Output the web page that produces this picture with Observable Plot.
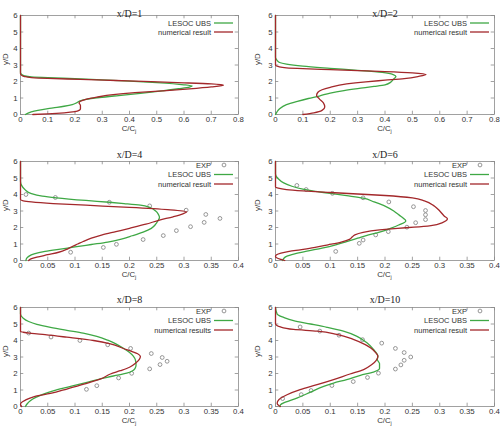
<!DOCTYPE html>
<html><head><meta charset="utf-8">
<script src="https://cdn.jsdelivr.net/npm/d3@7"></script>
<script src="https://cdn.jsdelivr.net/npm/@observablehq/plot@0.6"></script>
<style>
body{margin:0;width:500px;height:428px;overflow:hidden;background:#fff;position:relative}
svg.pp{position:absolute}
</style></head><body>
<script>
// ---- data ----
const titles = ["x/D=1","x/D=2","x/D=4","x/D=6","x/D=8","x/D=10"];
const yTicks = [0,1,2,3,4,5,6];
const xTicksWide = [0,0.1,0.2,0.3,0.4,0.5,0.6,0.7,0.8];
const xTicksNarrow = [0,0.05,0.1,0.15,0.2,0.25,0.3,0.35,0.4];
const legend2 = ["LESOC UBS","numerical result"];
const legend3 = ["EXP","LESOC UBS","numerical result"];
const legend3b = ["EXP","LESOC UBS","numerical results"];

// [C/Cj, y/D]
const les1 = [[0.018,0],[0.03,0.1],[0.05,0.2],[0.08,0.3],[0.12,0.4],[0.16,0.5],[0.19,0.6],[0.205,0.7],[0.215,0.8],[0.24,0.92],[0.29,1.03],[0.36,1.15],[0.44,1.28],[0.52,1.43],[0.58,1.56],[0.62,1.66],[0.63,1.72],[0.6,1.8],[0.5,1.93],[0.4,2.02],[0.3,2.1],[0.2,2.17],[0.1,2.23],[0.04,2.28],[0.015,2.34],[0.005,2.42],[0,2.55],[0,6]];
const num1 = [[0.045,0],[0.1,0.04],[0.16,0.1],[0.2,0.17],[0.215,0.25],[0.22,0.35],[0.22,0.55],[0.215,0.7],[0.22,0.8],[0.24,0.92],[0.28,1.05],[0.34,1.2],[0.42,1.32],[0.52,1.43],[0.62,1.55],[0.7,1.67],[0.745,1.78],[0.7,1.85],[0.6,1.92],[0.48,1.99],[0.35,2.06],[0.22,2.13],[0.1,2.19],[0.04,2.24],[0.015,2.3],[0.004,2.38],[0,2.45],[0,6]];

const les2 = [[0,0],[0.005,0.15],[0.015,0.35],[0.04,0.6],[0.08,0.8],[0.12,0.97],[0.16,1.12],[0.2,1.3],[0.25,1.45],[0.3,1.57],[0.36,1.7],[0.4,1.8],[0.42,1.95],[0.43,2.12],[0.44,2.3],[0.43,2.42],[0.39,2.55],[0.3,2.68],[0.2,2.8],[0.1,2.93],[0.04,3.05],[0.015,3.15],[0.005,3.3],[0,3.45],[0,6]];
const num2 = [[0.1,0],[0.14,0.1],[0.17,0.25],[0.18,0.45],[0.175,0.7],[0.16,0.95],[0.15,1.15],[0.155,1.35],[0.17,1.5],[0.2,1.65],[0.26,1.85],[0.33,1.98],[0.4,2.08],[0.47,2.18],[0.52,2.3],[0.55,2.42],[0.5,2.52],[0.4,2.6],[0.3,2.66],[0.2,2.72],[0.1,2.78],[0.04,2.83],[0.012,2.9],[0,3.0],[0,6]];

const exp4X = [0.01,0.064,0.163,0.237,0.304,0.34,0.366,0.337,0.312,0.286,0.262,0.225,0.176,0.152,0.092];
const exp4Y = [4.0,3.82,3.53,3.31,3.05,2.79,2.55,2.31,2.05,1.81,1.51,1.27,0.98,0.79,0.5];
const les4 = [[0.01,0],[0.011,0.12],[0.015,0.25],[0.025,0.4],[0.045,0.55],[0.07,0.68],[0.1,0.82],[0.13,0.97],[0.16,1.12],[0.185,1.3],[0.205,1.5],[0.225,1.72],[0.24,1.95],[0.248,2.2],[0.252,2.4],[0.255,2.6],[0.253,2.8],[0.248,3.0],[0.238,3.2],[0.22,3.35],[0.19,3.45],[0.163,3.53],[0.12,3.64],[0.066,3.8],[0.04,3.9],[0.02,4.05],[0.008,4.3],[0.002,4.55],[0,4.8],[0,6]];
const num4 = [[0.015,0],[0.018,0.08],[0.03,0.2],[0.05,0.35],[0.07,0.5],[0.085,0.68],[0.095,0.85],[0.105,1.0],[0.115,1.15],[0.13,1.35],[0.15,1.55],[0.175,1.75],[0.2,1.95],[0.23,2.2],[0.255,2.45],[0.28,2.65],[0.298,2.83],[0.305,2.95],[0.27,3.08],[0.2,3.22],[0.12,3.35],[0.06,3.45],[0.02,3.55],[0.005,3.62],[0,3.7],[0,6]];

const exp6X = [0.039,0.056,0.104,0.16,0.207,0.252,0.274,0.274,0.274,0.256,0.24,0.206,0.183,0.16,0.153,0.11];
const exp6Y = [4.55,4.3,4.07,3.8,3.55,3.26,3.03,2.77,2.48,2.29,2.02,1.75,1.55,1.24,1.04,0.55];
const les6 = [[0.013,0],[0.015,0.12],[0.02,0.25],[0.035,0.4],[0.06,0.58],[0.085,0.75],[0.11,0.95],[0.13,1.15],[0.15,1.35],[0.17,1.55],[0.19,1.72],[0.21,1.95],[0.225,2.15],[0.238,2.4],[0.234,2.55],[0.226,2.75],[0.216,3.0],[0.2,3.3],[0.18,3.55],[0.16,3.78],[0.13,3.93],[0.1,4.07],[0.07,4.2],[0.05,4.32],[0.03,4.5],[0.015,4.7],[0.005,4.95],[0,5.25],[0,6]];
const num6 = [[0.017,0],[0.01,0.07],[0.003,0.15],[0,0.25],[0.002,0.35],[0.01,0.45],[0.025,0.55],[0.045,0.65],[0.07,0.78],[0.096,0.95],[0.12,1.12],[0.135,1.28],[0.14,1.42],[0.145,1.55],[0.16,1.7],[0.19,1.85],[0.223,1.95],[0.253,2.02],[0.284,2.12],[0.305,2.3],[0.314,2.53],[0.308,2.7],[0.3,3.0],[0.29,3.3],[0.272,3.62],[0.25,3.8],[0.2,3.94],[0.15,4.03],[0.1,4.12],[0.05,4.22],[0.02,4.3],[0.005,4.38],[0,4.45],[0,6]];

const exp8X = [0.015,0.056,0.109,0.16,0.202,0.24,0.26,0.269,0.256,0.237,0.204,0.18,0.14,0.121];
const exp8Y = [4.45,4.21,4.0,3.74,3.52,3.21,2.97,2.74,2.54,2.28,2.01,1.73,1.26,1.04];
const les8 = [[0.009,0],[0.012,0.15],[0.018,0.35],[0.028,0.55],[0.042,0.75],[0.06,0.95],[0.085,1.16],[0.105,1.32],[0.122,1.46],[0.14,1.62],[0.159,1.77],[0.178,1.9],[0.195,2.02],[0.205,2.15],[0.21,2.3],[0.212,2.5],[0.211,2.8],[0.207,3.05],[0.199,3.3],[0.188,3.55],[0.175,3.8],[0.16,4.02],[0.14,4.25],[0.115,4.45],[0.085,4.62],[0.055,4.8],[0.03,4.98],[0.015,5.15],[0.005,5.35],[0,5.6],[0,6]];
const num8 = [[0.002,0],[0,0.12],[0.002,0.25],[0.009,0.39],[0.024,0.59],[0.055,0.79],[0.085,1.06],[0.116,1.36],[0.147,1.67],[0.165,1.97],[0.183,2.17],[0.2,2.38],[0.212,2.65],[0.218,2.85],[0.22,3.03],[0.215,3.2],[0.205,3.33],[0.19,3.5],[0.165,3.8],[0.134,4.0],[0.085,4.2],[0.045,4.35],[0.02,4.43],[0.005,4.5],[0,4.55],[0,6]];

const exp10X = [0.013,0.047,0.065,0.103,0.142,0.168,0.188,0.219,0.229,0.235,0.247,0.235,0.219,0.194,0.159,0.116,0.081,0.045];
const exp10Y = [0.48,0.72,0.97,1.27,1.51,1.76,2.02,2.27,2.52,2.8,3.0,3.27,3.52,3.84,4.05,4.32,4.57,4.82];
const les10 = [[0.008,0],[0.009,0.1],[0.018,0.26],[0.039,0.51],[0.064,0.87],[0.088,1.22],[0.106,1.42],[0.13,1.63],[0.155,1.89],[0.179,2.09],[0.19,2.3],[0.19,2.6],[0.186,2.85],[0.187,3.05],[0.179,3.46],[0.167,3.86],[0.148,4.27],[0.124,4.57],[0.094,4.8],[0.064,5.0],[0.033,5.2],[0.015,5.4],[0.003,5.6],[0,6]];
const num10 = [[0.009,0],[0.006,0.06],[0.003,0.2],[0.006,0.41],[0.021,0.71],[0.045,1.02],[0.076,1.32],[0.106,1.63],[0.136,1.97],[0.161,2.24],[0.176,2.54],[0.184,2.8],[0.187,3.05],[0.182,3.3],[0.174,3.55],[0.164,3.75],[0.142,4.07],[0.112,4.37],[0.076,4.57],[0.033,4.67],[0.009,4.82],[0,5.02],[0,6]];

// ---- layout / styles ----
const GREEN = "#3fa845", RED = "#a3282b", GRAY = "#8a8a8a", TXT = "#333";
const SANS = "Liberation Sans, Arial, sans-serif";
const panels = [
  {t:titles[0], xmax:0.8, xt:xTicksWide, les:les1, num:num1, ex:null, ey:null, leg:legend2, col:0, row:0},
  {t:titles[1], xmax:0.8, xt:xTicksWide, les:les2, num:num2, ex:null, ey:null, leg:legend2, col:1, row:0},
  {t:titles[2], xmax:0.4, xt:xTicksNarrow, les:les4, num:num4, ex:exp4X, ey:exp4Y, leg:legend3, col:0, row:1},
  {t:titles[3], xmax:0.4, xt:xTicksNarrow, les:les6, num:num6, ex:exp6X, ey:exp6Y, leg:legend3, col:1, row:1},
  {t:titles[4], xmax:0.4, xt:xTicksNarrow, les:les8, num:num8, ex:exp8X, ey:exp8Y, leg:legend3b, col:0, row:2},
  {t:titles[5], xmax:0.4, xt:xTicksNarrow, les:les10, num:num10, ex:exp10X, ey:exp10Y, leg:legend3, col:1, row:2}
];
const rowTop = [0,146,292], titleDy = [-6,-11,-11.5];
const cols = [{left:0, ml:20, mr:12, ylab:-15},{left:250, ml:25, mr:6, ylab:-18}];
const MT = 15, FH = 99, MB = 22, W = 250, H = MT+FH+MB;

for (const p of panels) {
  const c = cols[p.col];
  const expData = p.ex ? p.ex.map((x,i)=>({x, y:p.ey[i]})) : [];
  const tk = 0.2, tkx = p.xmax*0.015;
  const svg = Plot.plot({
    width: W, height: H, marginTop: MT, marginBottom: MB, marginLeft: c.ml, marginRight: c.mr,
    style: {fontFamily: SANS, fontSize: "7.8px", background: "transparent", overflow: "visible", color: TXT},
    x: {domain: [0, p.xmax]},
    y: {domain: [0, 6]},
    marks: [
      Plot.frame({stroke: GRAY, strokeWidth: 0.8}),
      Plot.ruleX(p.xt, {y1: 0, y2: tk, stroke: GRAY, strokeWidth: 0.8}),
      Plot.ruleX(p.xt, {y1: 6 - tk, y2: 6, stroke: GRAY, strokeWidth: 0.8}),
      Plot.ruleY(yTicks, {x1: 0, x2: tkx, stroke: GRAY, strokeWidth: 0.8}),
      Plot.ruleY(yTicks, {x1: p.xmax - tkx, x2: p.xmax, stroke: GRAY, strokeWidth: 0.8}),
      Plot.axisX(p.xt, {tickSize: 0, tickPadding: 2, tickFormat: d => String(d), label: null, fill: TXT}),
      Plot.axisY(yTicks, {tickSize: 0, tickPadding: 3, tickFormat: d => String(d), label: null, fill: TXT}),
      Plot.dot(expData, {x: "x", y: "y", r: 1.9, stroke: GRAY, strokeWidth: 0.9, fill: "none"}),
      Plot.line(p.les, {x: d => d[0], y: d => d[1], stroke: GREEN, strokeWidth: 1.3, curve: "monotone-y"}),
      Plot.line(p.num, {x: d => d[0], y: d => d[1], stroke: RED, strokeWidth: 1.3, curve: "monotone-y"}),
      Plot.text([p.t], {frameAnchor: "top", dy: titleDy[p.row], fontFamily: "Liberation Serif, Times New Roman, serif", fontSize: 10, fill: "#222"}),
      Plot.text(["y/D"], {frameAnchor: "left", dx: c.ylab, rotate: -90, fontSize: 7.8, fill: TXT})
    ]
  });
  svg.classList.add("pp");
  svg.style.left = c.left + "px";
  svg.style.top = rowTop[p.row] + "px";
  document.body.appendChild(svg);

  const s = d3.select(svg);
  const fl = c.ml, fr = W - c.mr, ft = MT, fb = MT + FH;
  // x-axis label C/Cj
  const xl = s.append("text").attr("x", (fl+fr)/2).attr("y", fb + 16.5)
    .attr("text-anchor", "middle").attr("font-family", SANS).attr("font-size", 7.8).attr("fill", TXT);
  xl.append("tspan").text("C/C");
  xl.append("tspan").attr("dy", 2).attr("font-size", 5.5).text("j");
  // legend
  const offs = p.leg.length === 2 ? [8, 17] : [4, 13.5, 23];
  p.leg.forEach((name, i) => {
    const y = ft + offs[i];
    s.append("text").attr("x", fr - 27).attr("y", y).attr("dy", "0.35em")
      .attr("text-anchor", "end").attr("font-family", SANS).attr("font-size", 7.5).attr("fill", TXT).text(name);
    if (name === "EXP") {
      s.append("circle").attr("cx", fr - 14).attr("cy", y).attr("r", 1.9)
        .attr("fill", "none").attr("stroke", GRAY).attr("stroke-width", 0.9);
    } else {
      const col = name.startsWith("LESOC") ? GREEN : RED;
      s.append("line").attr("x1", fr - 24).attr("x2", fr - 5).attr("y1", y).attr("y2", y)
        .attr("stroke", col).attr("stroke-width", 1.3);
    }
  });
}
</script>
</body></html>
